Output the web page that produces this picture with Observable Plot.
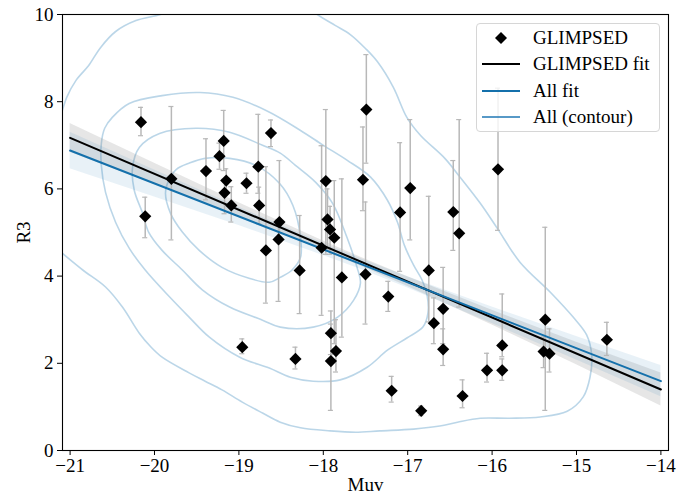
<!DOCTYPE html>
<html><head><meta charset="utf-8">
<script src="https://cdn.jsdelivr.net/npm/d3@7"></script>
<script src="https://cdn.jsdelivr.net/npm/@observablehq/plot@0.6"></script>
<style>
body{margin:0;background:#fff;}
#wrap{position:relative;width:698px;height:497px;font-family:"Liberation Serif",serif;}
#legend{position:absolute;left:476px;top:23px;width:184px;height:109px;border:1px solid #d6d6d6;border-radius:4px;background:rgba(255,255,255,0.8);box-sizing:border-box;}
.row{position:absolute;left:0;height:26px;display:flex;align-items:center;font-size:19px;color:#000;white-space:nowrap;}
.row svg{margin-left:5px;margin-right:13px;}
</style></head><body><div id="wrap"></div>
<script>
// GLIMPSED points
const muv = [-20.16,-20.11,-19.80,-18.96,-19.39,-19.23,-19.18,-19.15,-19.17,-19.09,-18.91,-18.77,-18.76,-18.62,-18.68,-18.53,-18.52,-18.28,-18.33,-18.02,-17.97,-17.95,-17.92,-17.87,-17.91,-17.91,-17.85,-17.78,-17.53,-17.49,-17.50,-17.23,-17.19,-17.09,-16.97,-16.84,-16.75,-16.69,-16.58,-16.58,-16.46,-16.39,-16.35,-16.06,-15.93,-15.88,-15.88,-15.37,-15.39,-15.32,-14.64];
const r3 = [7.53,5.37,6.23,2.37,6.41,6.75,7.10,6.19,5.91,5.62,6.13,6.51,5.62,7.28,4.59,4.84,5.24,4.13,2.10,4.65,6.18,5.30,5.07,4.88,2.69,2.05,2.28,3.97,6.21,7.82,4.04,3.53,1.37,5.46,6.02,0.91,4.13,2.92,3.25,2.32,5.47,4.98,1.25,1.84,6.45,2.41,1.84,3.00,2.27,2.22,2.54];
const r3Lo = [7.22,4.88,4.83,2.22,5.75,6.45,6.42,5.92,5.43,5.24,5.90,5.90,5.20,6.97,3.38,3.42,4.90,3.14,1.87,3.10,4.50,4.60,4.50,2.45,2.20,0.92,1.80,2.60,5.50,6.59,2.90,3.19,1.11,4.11,4.83,0.80,2.95,2.45,2.45,1.95,4.59,3.29,0.98,1.57,5.05,2.15,1.61,0.92,1.90,1.80,2.18];
const r3Hi = [7.87,5.81,7.89,2.56,7.15,7.05,7.80,6.46,6.22,6.05,6.36,7.71,6.04,7.58,6.51,5.30,6.65,5.39,2.37,6.99,7.82,6.00,5.60,6.19,3.20,2.90,3.00,6.23,7.42,9.08,5.70,3.88,1.70,7.06,7.59,1.02,5.83,3.50,4.20,2.79,6.65,7.59,1.62,2.23,8.31,3.59,2.10,5.12,2.60,2.79,2.94];

// fits
const fitX = [-21, -14];
const glimpsedFit = [7.17, 1.40];
const allFit = [6.88, 1.59];
const bandX = [-21, -20, -19, -18, -17.5, -17, -16, -15, -14];
const glimpsedHalf = [0.33, 0.24, 0.16, 0.11, 0.10, 0.11, 0.17, 0.26, 0.38];
const allHalf = [0.42, 0.31, 0.21, 0.14, 0.12, 0.13, 0.19, 0.27, 0.36];

// contours (All sample)
const contA1x = [-19.75,-19.93,-20.22,-20.46,-20.64,-20.78,-20.93,-21.04,-21.11,-21.17];
const contA1y = [10.14,10.00,9.86,9.61,9.24,8.83,8.49,8.10,7.69,7.39];
const contA2x = [-18.21,-18.07,-17.86,-17.68,-17.50,-17.36,-17.17,-17.01,-16.85,-16.56,-16.38,-16.14,-15.94,-15.67,-15.31,-15.04,-14.88,-14.82,-14.84,-14.92,-15.11,-15.43,-15.79,-16.14,-16.41,-16.62,-16.93,-17.33,-17.62,-17.92,-18.27,-18.51,-18.72,-18.96,-19.20,-19.40,-19.59,-19.91,-20.05,-20.18,-20.38,-20.58,-20.85,-21.09,-21.23];
const contA2y = [10.21,10.00,9.75,9.54,9.22,8.92,8.33,7.64,7.23,6.70,6.27,5.67,5.10,4.32,3.63,3.06,2.65,2.19,1.68,1.23,0.90,0.77,0.74,0.74,0.65,0.56,0.49,0.45,0.42,0.45,0.52,0.65,0.86,1.11,1.39,1.59,1.78,2.14,2.39,2.69,3.29,3.75,4.14,4.52,4.75];
const contBx = [-20.63,-20.59,-20.50,-20.30,-19.91,-19.46,-19.07,-18.66,-18.27,-18.00,-17.72,-17.44,-17.24,-17.12,-17.04,-16.93,-16.83,-16.77,-16.76,-16.82,-17.01,-17.24,-17.48,-17.80,-18.12,-18.39,-18.64,-18.99,-19.35,-19.59,-19.82,-20.11,-20.30,-20.46,-20.58,-20.63];
const contBy = [7.04,7.39,7.64,7.96,8.14,8.21,8.10,7.78,7.34,7.00,6.66,6.27,5.74,5.23,4.71,4.25,3.91,3.56,3.15,2.83,2.58,2.30,1.91,1.62,1.59,1.68,1.89,2.14,2.60,3.06,3.52,4.14,4.64,5.23,5.92,6.54];
const contCx = [-20.24,-20.26,-20.18,-19.94,-19.51,-19.11,-18.72,-18.51,-18.33,-18.09,-17.89,-17.72,-17.60,-17.56,-17.64,-17.83,-18.12,-18.51,-18.72,-19.11,-19.43,-19.67,-19.91,-20.07,-20.14];
const contCy = [5.97,6.49,6.95,7.27,7.39,7.30,7.00,6.82,6.54,6.15,5.67,4.89,4.20,3.84,3.45,3.06,2.83,2.83,2.99,3.29,3.68,4.14,4.59,5.01,5.44];
const contDx = [-19.87,-19.83,-19.74,-19.59,-19.40,-19.11,-18.80,-18.52,-18.36,-18.27,-18.27,-18.37,-18.51,-18.64,-18.88,-19.20,-19.47,-19.67,-19.81];
const contDy = [5.90,6.20,6.45,6.59,6.70,6.70,6.54,6.13,5.62,4.89,4.43,4.14,3.97,3.86,3.95,4.20,4.59,5.01,5.44];

const xTicks = [-21,-20,-19,-18,-17,-16,-15,-14];
const yTicks = [0,2,4,6,8,10];

const points = muv.map((x, i) => ({x, y: r3[i], lo: r3Lo[i], hi: r3Hi[i]}));
const lerp = (f, x) => f[0] + (f[1] - f[0]) * (x - fitX[0]) / (fitX[1] - fitX[0]);
const gBand = bandX.map((x, i) => ({x, lo: lerp(glimpsedFit, x) - glimpsedHalf[i], hi: lerp(glimpsedFit, x) + glimpsedHalf[i]}));
const aBand = bandX.map((x, i) => ({x, lo: lerp(allFit, x) - allHalf[i], hi: lerp(allFit, x) + allHalf[i]}));
const gLine = fitX.map((x, i) => ({x, y: glimpsedFit[i]}));
const aLine = fitX.map((x, i) => ({x, y: allFit[i]}));
const toPts = (xs, ys) => xs.map((x, i) => ({x, y: ys[i]}));
const openConts = [...toPts(contA1x, contA1y).map(d => ({...d, k: "A1"})), ...toPts(contA2x, contA2y).map(d => ({...d, k: "A2"}))];
const closedConts = [
  ...toPts(contBx, contBy).map(d => ({...d, k: "B"})),
  ...toPts(contCx, contCy).map(d => ({...d, k: "C"})),
  ...toPts(contDx, contDy).map(d => ({...d, k: "D"}))
];

const minus = d => d < 0 ? "\u2212" + Math.abs(d) : String(d);
const contStyle = {stroke: "#1f77b4", strokeOpacity: 0.3, strokeWidth: 1.6, clip: true};

const chart = Plot.plot({
  width: 698, height: 497,
  marginLeft: 62, marginRight: 30, marginTop: 14, marginBottom: 47,
  x: {domain: [-21.09, -13.91]},
  y: {domain: [0, 10]},
  style: {fontFamily: "Liberation Serif", fontSize: "19px", background: "transparent", color: "#000"},
  marks: [
    Plot.line(openConts, {x: "x", y: "y", z: "k", curve: "catmull-rom", ...contStyle}),
    Plot.line(closedConts, {x: "x", y: "y", z: "k", curve: "catmull-rom-closed", ...contStyle}),
    Plot.areaY(gBand, {x: "x", y1: "lo", y2: "hi", fill: "gray", fillOpacity: 0.2}),
    Plot.areaY(aBand, {x: "x", y1: "lo", y2: "hi", fill: "#1f77b4", fillOpacity: 0.1}),
    Plot.ruleX(points, {x: "x", y1: "lo", y2: "hi", stroke: "#b8b8b8", strokeWidth: 1.5}),
    Plot.ruleY(points, {y: "lo", x1: d => d.x - 0.03, x2: d => d.x + 0.03, stroke: "#b8b8b8", strokeWidth: 1.2}),
    Plot.ruleY(points, {y: "hi", x1: d => d.x - 0.03, x2: d => d.x + 0.03, stroke: "#b8b8b8", strokeWidth: 1.2}),
    Plot.line(gLine, {x: "x", y: "y", stroke: "#000", strokeWidth: 2}),
    Plot.line(aLine, {x: "x", y: "y", stroke: "#1470ab", strokeWidth: 2}),
    Plot.dot(points, {x: "x", y: "y", symbol: "diamond2", r: 5.5, fill: "#000", stroke: "none"}),
    Plot.frame({stroke: "#000", strokeWidth: 1.1}),
    Plot.axisX({ticks: xTicks, tickFormat: minus, tickSize: 5, tickPadding: 3, label: "Muv", labelAnchor: "center", labelArrow: "none", labelOffset: 40}),
    Plot.axisY({ticks: yTicks, tickFormat: minus, tickSize: 5, tickPadding: 4, label: "R3", labelAnchor: "center", labelArrow: "none", labelOffset: 46})
  ]
});

const wrap = document.getElementById("wrap");
wrap.appendChild(chart);

// legend
const legendItems = [
  {label: "GLIMPSED", kind: "dot"},
  {label: "GLIMPSED fit", kind: "line", color: "#000", w: 2},
  {label: "All fit", kind: "line", color: "#1470ab", w: 2},
  {label: "All (contour)", kind: "line", color: "#1f77b4", w: 1.5}
];
const leg = document.createElement("div");
leg.id = "legend";
legendItems.forEach((it, i) => {
  const row = document.createElement("div");
  row.className = "row";
  row.style.top = (1 + i * 26.3) + "px";
  const ns = "http://www.w3.org/2000/svg";
  const s = document.createElementNS(ns, "svg");
  s.setAttribute("width", 38); s.setAttribute("height", 20);
  if (it.kind === "dot") {
    const p = document.createElementNS(ns, "path");
    p.setAttribute("d", "M19,4 L25,10 L19,16 L13,10 Z");
    p.setAttribute("fill", "#000");
    s.appendChild(p);
  } else {
    const l = document.createElementNS(ns, "line");
    l.setAttribute("x1", 0); l.setAttribute("x2", 38); l.setAttribute("y1", 10); l.setAttribute("y2", 10);
    l.setAttribute("stroke", it.color); l.setAttribute("stroke-width", it.w);
    s.appendChild(l);
  }
  row.appendChild(s);
  const t = document.createElement("span");
  t.textContent = it.label;
  row.appendChild(t);
  leg.appendChild(row);
});
wrap.appendChild(leg);
</script>
</body></html>
